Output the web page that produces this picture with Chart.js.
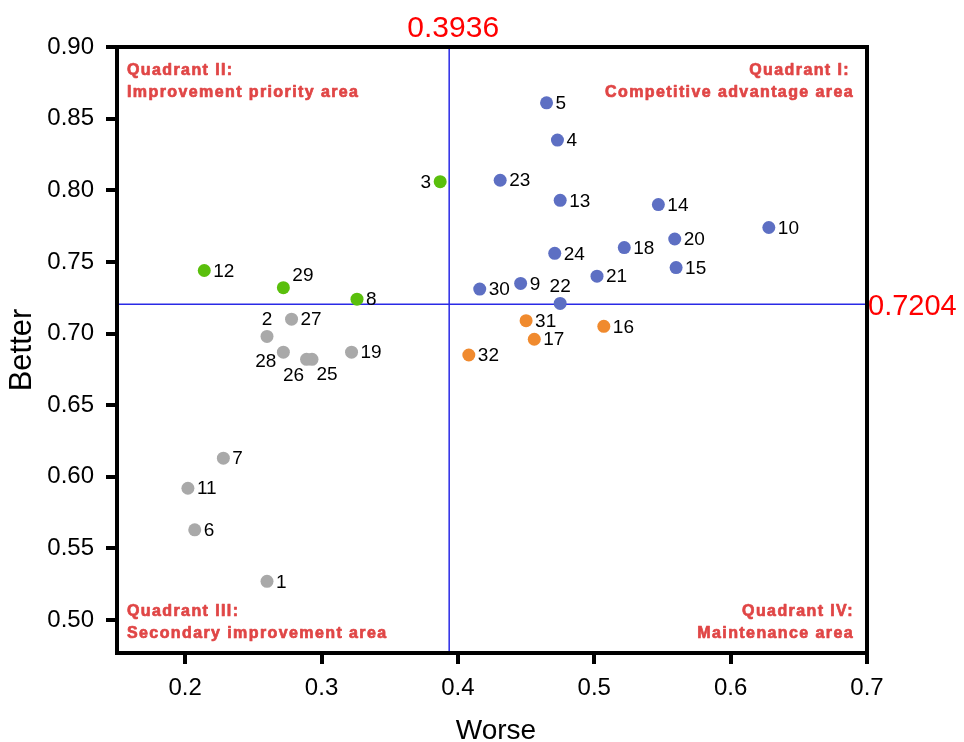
<!DOCTYPE html>
<html>
<head>
<meta charset="utf-8">
<script src="https://cdn.jsdelivr.net/npm/chart.js@4.4.1/dist/chart.umd.min.js"></script>
<style>
  html, body { margin: 0; padding: 0; background: #ffffff; }
  #wrap { width: 964px; height: 742px; position: relative; }
</style>
</head>
<body>
<div id="wrap"><canvas id="c" width="964" height="742"></canvas></div>
<script>
// ---------------- data ----------------
const itemIds = [1, 2, 3, 4, 5, 6, 7, 8, 9, 10, 11, 12, 13, 14, 15, 16,
                 17, 18, 19, 20, 21, 22, 23, 24, 25, 26, 27, 28, 29, 30, 31, 32];
const worse = [0.260, 0.260, 0.387, 0.473, 0.465, 0.207, 0.228, 0.326,
               0.446, 0.628, 0.202, 0.214, 0.475, 0.547, 0.560, 0.507,
               0.456, 0.522, 0.322, 0.559, 0.502, 0.475, 0.431, 0.471,
               0.293, 0.289, 0.278, 0.272, 0.272, 0.416, 0.450, 0.408];
const better = [0.527, 0.698, 0.806, 0.835, 0.861, 0.563, 0.613, 0.724,
                0.735, 0.774, 0.592, 0.744, 0.793, 0.790, 0.746, 0.705,
                0.696, 0.760, 0.687, 0.766, 0.740, 0.721, 0.807, 0.756,
                0.682, 0.682, 0.710, 0.687, 0.732, 0.731, 0.709, 0.685];
const worseMean = 0.3936;
const betterMean = 0.7204;
const xTicks = [0.2, 0.3, 0.4, 0.5, 0.6, 0.7];
const yTicks = [0.50, 0.55, 0.60, 0.65, 0.70, 0.75, 0.80, 0.85, 0.90];
const xTitle = 'Worse';
const yTitle = 'Better';
const quadrantTitles = {
  q1: ['Quadrant I:', 'Competitive advantage area'],
  q2: ['Quadrant II:', 'Improvement priority area'],
  q3: ['Quadrant III:', 'Secondary improvement area'],
  q4: ['Quadrant IV:', 'Maintenance area']
};

// ---------------- styling ----------------
const FONT = "'Liberation Sans', Arial, Helvetica, sans-serif";
const quadColors = { q1: '#5d6fc3', q2: '#5abf0c', q3: '#a9a9a9', q4: '#f08a2e' };
// label placement relative to its dot (style only)
const labelPlace = { 3: 'left', 22: 'above', 2: 'above', 28: 'belowLeft',
                     26: 'belowMid', 25: 'belowRight', 29: 'aboveRight' };

function quadrantOf(w, b) {
  if (b >= betterMean) return w >= worseMean ? 'q1' : 'q2';
  return w >= worseMean ? 'q4' : 'q3';
}

const groups = { q1: [], q2: [], q3: [], q4: [] };
itemIds.forEach((id, i) => {
  groups[quadrantOf(worse[i], better[i])].push({ x: worse[i], y: better[i], id: id });
});

const datasets = ['q1', 'q2', 'q4', 'q3'].map(q => ({
  label: q,
  data: groups[q],
  backgroundColor: quadColors[q],
  borderWidth: 0,
  pointRadius: 6.5,
  pointHoverRadius: 6.5
}));

Chart.defaults.font.family = FONT;
Chart.defaults.color = '#000';

const framePlugin = {
  id: 'frame',
  beforeDatasetsDraw(chart) {
    const { ctx, chartArea: a, scales: { x, y } } = chart;
    ctx.save();
    // mean reference lines
    ctx.strokeStyle = '#2a2ae6';
    ctx.lineWidth = 1.5;
    const vx = x.getPixelForValue(worseMean);
    const hy = y.getPixelForValue(betterMean);
    ctx.beginPath();
    ctx.moveTo(vx, a.top); ctx.lineTo(vx, a.bottom);
    ctx.moveTo(a.left, hy); ctx.lineTo(a.right, hy);
    ctx.stroke();
    // frame
    ctx.strokeStyle = '#000';
    ctx.lineWidth = 4;
    ctx.strokeRect(a.left, a.top, a.right - a.left, a.bottom - a.top);
    ctx.restore();
  },
  afterDatasetsDraw(chart) {
    const { ctx } = chart;
    ctx.save();
    ctx.fillStyle = '#000';
    ctx.font = '19px ' + FONT;
    ctx.textBaseline = 'middle';
    chart.data.datasets.forEach((ds, di) => {
      const meta = chart.getDatasetMeta(di);
      meta.data.forEach((el, i) => {
        const id = ds.data[i].id;
        const p = labelPlace[id] || 'right';
        let tx = el.x, ty = el.y + 1, align = 'left';
        if (p === 'right') { tx = el.x + 9; }
        else if (p === 'left') { tx = el.x - 9; align = 'right'; }
        else if (p === 'above') { ty = el.y - 17; align = 'center'; }
        else if (p === 'belowLeft') { tx = el.x - 7; ty = el.y + 10; align = 'right'; }
        else if (p === 'belowMid') { tx = el.x - 13; ty = el.y + 16; align = 'center'; }
        else if (p === 'belowRight') { tx = el.x + 15; ty = el.y + 15; align = 'center'; }
        else if (p === 'aboveRight') { tx = el.x + 9; ty = el.y - 12; }
        ctx.textAlign = align;
        ctx.fillText(String(id), tx, ty);
      });
    });
    ctx.restore();
  },
  afterDraw(chart) {
    const { ctx, chartArea: a, scales: { x, y } } = chart;
    ctx.save();
    // mean values in red
    ctx.fillStyle = '#ff0000';
    ctx.textBaseline = 'alphabetic';
    ctx.font = '30px ' + FONT;
    ctx.textAlign = 'center';
    ctx.fillText(worseMean.toFixed(4), x.getPixelForValue(worseMean) + 4, a.top - 10);
    ctx.font = '29px ' + FONT;
    ctx.textAlign = 'left';
    ctx.fillText(betterMean.toFixed(4), a.right + 1, y.getPixelForValue(betterMean) + 11);
    // x axis title
    ctx.fillStyle = '#000';
    ctx.font = '28px ' + FONT;
    ctx.textAlign = 'center';
    ctx.fillText(xTitle, (a.left + a.right) / 2 + 4, 739);
    // quadrant captions
    ctx.fillStyle = '#e04646';
    ctx.strokeStyle = '#e04646';
    ctx.lineWidth = 0.7;
    ctx.lineJoin = 'round';
    ctx.font = 'bold 16px ' + FONT;
    if ('letterSpacing' in ctx) ctx.letterSpacing = '1.4px';
    const L = a.left + 10, R = a.right - 13;
    const put = (t, px, py) => { ctx.fillText(t, px, py); ctx.strokeText(t, px, py); };
    ctx.textAlign = 'left';
    put(quadrantTitles.q2[0], L, a.top + 28);
    put(quadrantTitles.q2[1], L, a.top + 50);
    put(quadrantTitles.q3[0], L, a.bottom - 37);
    put(quadrantTitles.q3[1], L, a.bottom - 15);
    ctx.textAlign = 'right';
    put(quadrantTitles.q1[0], R - 4, a.top + 28);
    put(quadrantTitles.q1[1], R, a.top + 50);
    put(quadrantTitles.q4[0], R, a.bottom - 37);
    put(quadrantTitles.q4[1], R, a.bottom - 15);
    ctx.restore();
  }
};

new Chart(document.getElementById('c'), {
  type: 'scatter',
  data: { datasets: datasets },
  options: {
    responsive: false,
    animation: false,
    devicePixelRatio: 1,
    layout: { padding: { top: 47, right: 97, bottom: 0, left: 0 } },
    plugins: { legend: { display: false }, tooltip: { enabled: false } },
    scales: {
      x: {
        type: 'linear',
        min: 0.15,
        max: 0.7,
        afterBuildTicks: s => { s.ticks = xTicks.map(v => ({ value: v })); },
        afterFit: s => { s.height = 89; },
        ticks: {
          callback: v => Number(v).toFixed(1),
          font: { size: 24 },
          color: '#000',
          padding: 10,
          maxRotation: 0,
          autoSkip: false
        },
        grid: { drawOnChartArea: false, drawTicks: true, tickLength: 11, lineWidth: 4, color: '#000' },
        border: { display: false },
        title: { display: false }
      },
      y: {
        type: 'linear',
        min: 0.477,
        max: 0.9,
        afterBuildTicks: s => { s.ticks = yTicks.map(v => ({ value: v })); },
        afterFit: s => { s.width = 117; },
        ticks: {
          callback: v => Number(v).toFixed(2),
          font: { size: 24 },
          color: '#000',
          padding: 12,
          autoSkip: false
        },
        grid: { drawOnChartArea: false, drawTicks: true, tickLength: 11, lineWidth: 4, color: '#000' },
        border: { display: false },
        title: {
          display: true,
          text: yTitle,
          font: { size: 31, lineHeight: 1.2 },
          color: '#000',
          padding: { top: 4, bottom: 0 }
        }
      }
    }
  },
  plugins: [framePlugin]
});
</script>
</body>
</html>
